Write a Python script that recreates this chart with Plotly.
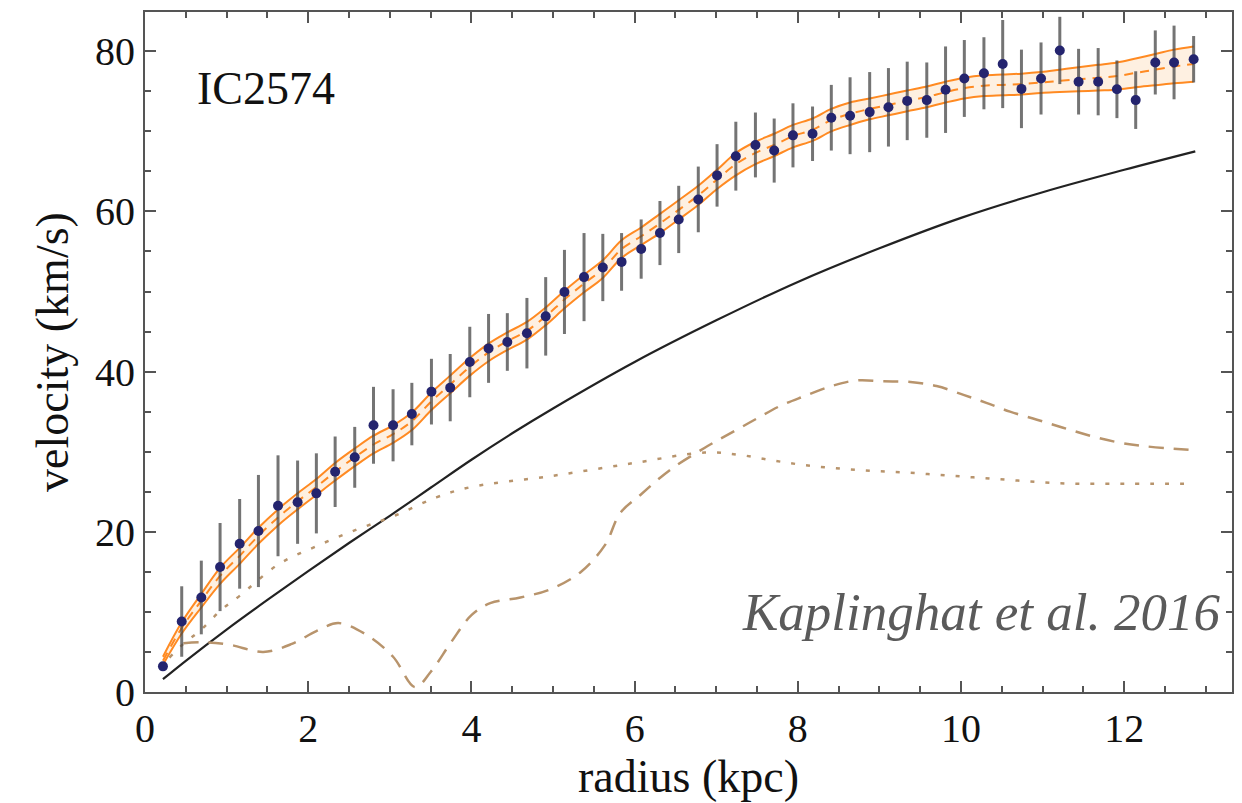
import plotly.graph_objects as go

# ---- observed data (IC2574 rotation curve) ----
radius = [0.22, 0.45, 0.69, 0.92, 1.16, 1.39, 1.63, 1.87, 2.10, 2.33, 2.57, 2.80, 3.04, 3.27,
          3.51, 3.74, 3.98, 4.21, 4.44, 4.68, 4.91, 5.14, 5.38, 5.61, 5.84, 6.08, 6.31, 6.54,
          6.78, 7.01, 7.24, 7.48, 7.71, 7.94, 8.18, 8.41, 8.64, 8.88, 9.11, 9.34, 9.58, 9.81,
          10.04, 10.28, 10.51, 10.74, 10.98, 11.21, 11.44, 11.68, 11.91, 12.14, 12.38, 12.61, 12.85]
velocity = [3.2, 8.8, 11.8, 15.6, 18.5, 20.1, 23.25, 23.7, 24.8, 27.5, 29.3, 33.3, 33.3, 34.7,
            37.5, 38.0, 41.2, 42.9, 43.7, 44.8, 46.9, 49.95, 51.8, 53.0, 53.7, 55.3, 57.3, 59.0,
            61.5, 64.5, 66.9, 68.3, 67.6, 69.5, 69.7, 71.7, 71.95, 72.4, 73.0, 73.8, 73.9, 75.2,
            76.6, 77.25, 78.4, 75.3, 76.6, 80.1, 76.2, 76.2, 75.25, 73.9, 78.6, 78.6, 79.0]
vel_err = [0.0, 4.4, 4.6, 5.5, 5.6, 7.0, 6.3, 5.2, 5.0, 4.4, 3.8, 4.8, 4.5, 3.9,
           4.1, 4.2, 4.4, 4.3, 3.6, 4.4, 4.9, 5.25, 5.5, 4.2, 3.6, 3.7, 4.0, 4.2,
           4.1, 3.9, 4.3, 4.05, 4.0, 4.0, 3.4, 4.1, 4.8, 5.0, 4.9, 4.9, 4.7, 5.4,
           4.8, 4.5, 5.5, 4.9, 4.5, 4.2, 4.1, 4.2, 3.6, 3.6, 4.0, 4.6, 2.9]

# ---- fit band (evaluated at the data radii) ----
fit_center = [3.9, 8.0, 11.4, 14.5, 17.0, 19.5, 21.8, 23.8, 25.6, 27.5, 29.3, 30.9, 32.2, 33.8,
              36.3, 38.4, 40.6, 42.4, 43.8, 45.1, 46.9, 49.0, 51.0, 52.8, 55.3, 56.9, 58.5, 60.2,
              62.0, 64.0, 65.9, 67.3, 68.3, 69.4, 70.2, 71.4, 72.2, 72.8, 73.3, 73.8, 74.3, 74.9,
              75.4, 75.7, 75.8, 75.9, 76.1, 76.3, 76.5, 76.7, 76.9, 77.3, 77.7, 78.1, 78.4]
fit_halfwidth = [0.5, 0.7, 0.85, 1.0, 1.0, 1.0, 1.0, 1.0, 1.0, 1.1, 1.1, 1.1, 1.1, 1.1,
                 1.1, 1.1, 1.1, 1.1, 1.1, 1.1, 1.1, 1.1, 1.1, 1.1, 1.1, 1.1, 1.2, 1.2,
                 1.2, 1.2, 1.4, 1.4, 1.4, 1.4, 1.4, 1.4, 1.4, 1.3, 1.3, 1.3, 1.3, 1.3,
                 1.3, 1.3, 1.3, 1.3, 1.3, 1.4, 1.5, 1.6, 1.7, 1.8, 1.95, 2.1, 2.2]
fit_upper = [c + h for c, h in zip(fit_center, fit_halfwidth)]
fit_lower = [c - h for c, h in zip(fit_center, fit_halfwidth)]

# ---- model components ----
halo_r = [0.22, 0.5, 1, 1.5, 2, 2.5, 3, 3.5, 4, 4.5, 5, 6, 7, 8, 9, 10, 11, 12, 12.87]
halo_v = [1.6, 3.9, 7.8, 11.5, 15.1, 18.6, 22.0, 25.5, 29.0, 32.3, 35.4, 41.2, 46.4, 51.2,
          55.4, 59.2, 62.4, 65.2, 67.5]

disk_r = [0.47, 0.75, 1.04, 1.45, 1.8, 2.1, 2.37, 2.72, 3.04, 3.31, 3.5, 3.75, 4.0, 4.23,
          4.6, 4.96, 5.33, 5.64, 5.82, 6.07, 6.43, 6.86, 7.21, 7.49, 7.78, 8.07, 8.43, 8.72,
          9.05, 9.38, 9.7, 10.03, 10.31, 10.6, 10.93, 11.25, 11.58, 11.91, 12.24, 12.85]
disk_v = [6.1, 6.2, 5.9, 5.0, 6.0, 7.6, 8.6, 7.1, 4.4, 0.6, 2.5, 6.2, 9.6, 11.1,
          11.8, 12.8, 14.9, 18.4, 22.3, 24.6, 27.7, 30.5, 32.5, 34.1, 35.7, 36.9, 38.25, 38.9,
          38.8, 38.7, 38.2, 37.1, 36.1, 35.0, 34.0, 33.0, 32.0, 31.2, 30.7, 30.2]

gas_r = [0.3, 0.47, 0.69, 0.94, 1.16, 1.63, 2.1, 2.6, 3.08, 3.57, 4.0, 5.0, 6.0, 6.86, 7.29,
         7.7, 8.1, 8.52, 8.93, 9.33, 9.74, 10.15, 10.56, 10.97, 11.38, 11.78, 12.2, 12.85]
gas_v = [4.3, 6.0, 7.8, 10.3, 12.0, 15.9, 18.2, 20.3, 22.1, 24.3, 25.6, 27.0, 28.6, 29.9, 29.6,
         28.9, 28.3, 27.9, 27.6, 27.4, 27.1, 26.8, 26.5, 26.2, 26.0, 26.0, 26.0, 26.0]

x_ticks = [0, 2, 4, 6, 8, 10, 12]
y_ticks = [0, 20, 40, 60, 80]

ORANGE = "#ff8a22"
BROWN = "#b8946c"
SERIF = "Liberation Serif, Times New Roman, serif"

fig = go.Figure()

# band
fig.add_trace(go.Scatter(x=radius, y=fit_lower, mode="lines", line=dict(color=ORANGE, width=2, shape="spline"),
                         showlegend=False, hoverinfo="skip"))
fig.add_trace(go.Scatter(x=radius, y=fit_upper, mode="lines", line=dict(color=ORANGE, width=2, shape="spline"),
                         fill="tonexty", fillcolor="rgba(253,228,200,0.55)", showlegend=False, hoverinfo="skip"))
fig.add_trace(go.Scatter(x=radius, y=fit_center, mode="lines",
                         line=dict(color=ORANGE, width=2, dash="9px,7px", shape="spline"),
                         showlegend=False, hoverinfo="skip"))

# components
fig.add_trace(go.Scatter(x=halo_r, y=halo_v, mode="lines", line=dict(color="#222222", width=2.2, shape="spline"),
                         showlegend=False))
fig.add_trace(go.Scatter(x=disk_r, y=disk_v, mode="lines",
                         line=dict(color=BROWN, width=2.5, dash="15px,10px", shape="spline"), showlegend=False))
fig.add_trace(go.Scatter(x=gas_r, y=gas_v, mode="lines",
                         line=dict(color=BROWN, width=2.5, dash="4px,11px", shape="spline"), showlegend=False))

# data with error bars
fig.add_trace(go.Scatter(x=radius, y=velocity, mode="markers",
                         marker=dict(color="#24246e", size=10),
                         error_y=dict(type="data", array=vel_err, visible=True, thickness=3,
                                      width=0, color="rgba(70,70,70,0.75)"),
                         showlegend=False))

axis_common = dict(showline=True, linecolor="#555555", linewidth=2, mirror="allticks",
                   ticks="inside", tickcolor="#555555", tickwidth=2, ticklen=11,
                   showgrid=False, zeroline=False, automargin=False,
                   tickfont=dict(family=SERIF, size=40, color="#111111"))

fig.update_xaxes(range=[0, 13.32], tickvals=x_ticks, ticktext=[str(t) for t in x_ticks],
                 minor=dict(dtick=0.5, tick0=0, ticks="inside", ticklen=6, tickcolor="#555555", tickwidth=1.5),
                 title=dict(text="radius (kpc)", font=dict(family=SERIF, size=46, color="#111111"), standoff=4),
                 **axis_common)
fig.update_yaxes(range=[0, 84.9], tickvals=y_ticks, ticktext=[str(t) for t in y_ticks],
                 minor=dict(dtick=5, tick0=0, ticks="inside", ticklen=6, tickcolor="#555555", tickwidth=1.5),
                 title=dict(text="velocity (km/s)", font=dict(family=SERIF, size=46, color="#111111"), standoff=12),
                 **axis_common)

fig.add_annotation(x=0.046, y=0.888, xref="paper", yref="paper", text="IC2574", showarrow=False,
                   xanchor="left", yanchor="middle", font=dict(family=SERIF, size=46, color="#111111"))
fig.add_annotation(x=0.992, y=0.118, xref="paper", yref="paper", text="<i>Kaplinghat et al. 2016</i>",
                   showarrow=False, xanchor="right", yanchor="middle",
                   font=dict(family=SERIF, size=53, color="#5a5a5a"))

fig.update_layout(width=1242, height=803, margin=dict(l=145, r=10, t=12, b=111),
                  plot_bgcolor="white", paper_bgcolor="white")

fig.write_html("out.html")
